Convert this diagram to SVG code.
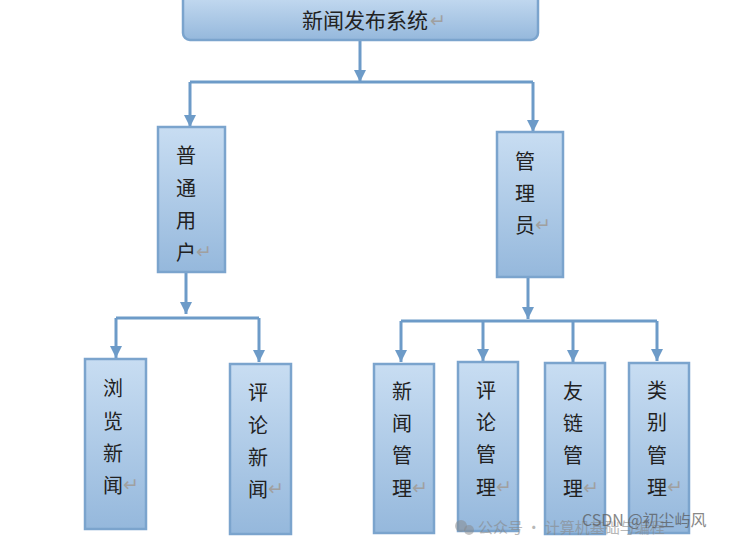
<svg xmlns="http://www.w3.org/2000/svg" width="734" height="540" viewBox="0 0 734 540">
<defs>
<linearGradient id="g" x1="0" y1="0" x2="0" y2="1">
<stop offset="0" stop-color="#c8ddf2"/>
<stop offset="1" stop-color="#95b8dc"/>
</linearGradient>
<marker id="ah" markerUnits="userSpaceOnUse" markerWidth="14" markerHeight="12" refX="12" refY="6" orient="auto">
<path d="M0,0 L12,6 L0,12 z" fill="#6d9bc8"/>
</marker>
<style>
.box{fill:url(#g);stroke:#7ba4cd;stroke-width:2.5}
.t{font-family:"Noto Sans CJK SC","Noto Sans",sans-serif;font-size:20px;fill:#222;text-anchor:middle;dominant-baseline:central}
.r{font-family:"DejaVu Sans",sans-serif;font-size:19px;fill:#a0a0a0;dominant-baseline:central}
.c{fill:none;stroke:#6d9bc8;stroke-width:3}
.a{marker-end:url(#ah)}
.wm{font-family:"Noto Sans CJK SC",sans-serif;fill:#888;opacity:0.6}
</style>
</defs>
<rect width="734" height="540" fill="#fff"/>
<g id="connectors">
<path class="c a" d="M360,40 V82"/>
<path class="c" d="M190,82 H533"/>
<path class="c a" d="M190,82 V127"/>
<path class="c a" d="M533,82 V132"/>
<path class="c a" d="M186,272 V314"/>
<path class="c" d="M116,318 H259"/>
<path class="c a" d="M116,318 V358"/>
<path class="c a" d="M259,318 V362"/>
<path class="c a" d="M528,277 V319"/>
<path class="c" d="M401,321 H657"/>
<path class="c a" d="M401,321 V362"/>
<path class="c a" d="M483,321 V361"/>
<path class="c a" d="M573,321 V362"/>
<path class="c a" d="M657,321 V361"/>
</g>
<g id="root">
<rect class="box" x="183" y="-8" width="355" height="48" rx="7"/>
<text class="t" x="365" y="19" style="font-size:21px">新闻发布系统</text>
<text class="r" x="430" y="20">↵</text>
</g>
<g id="user">
<rect class="box" x="158" y="127" width="67" height="145"/>
<text class="t" x="186" y="154">普</text>
<text class="t" x="186" y="187">通</text>
<text class="t" x="186" y="219">用</text>
<text class="t" x="186" y="251">户</text>
<text class="r" x="196" y="251">↵</text>
</g>
<g id="admin">
<rect class="box" x="497" y="132" width="66" height="145"/>
<text class="t" x="525" y="160">管</text>
<text class="t" x="525" y="192">理</text>
<text class="t" x="525" y="224">员</text>
<text class="r" x="535" y="224">↵</text>
</g>
<g id="browse">
<rect class="box" x="85" y="359" width="61" height="170"/>
<text class="t" x="113" y="387">浏</text>
<text class="t" x="113" y="420">览</text>
<text class="t" x="113" y="452">新</text>
<text class="t" x="113" y="484">闻</text>
<text class="r" x="123" y="484">↵</text>
</g>
<g id="comment">
<rect class="box" x="230" y="364" width="61" height="170"/>
<text class="t" x="258" y="391">评</text>
<text class="t" x="258" y="424">论</text>
<text class="t" x="258" y="456">新</text>
<text class="t" x="258" y="488">闻</text>
<text class="r" x="268" y="488">↵</text>
</g>
<g id="newsmgr">
<rect class="box" x="374" y="364" width="60" height="169"/>
<text class="t" x="402" y="390">新</text>
<text class="t" x="402" y="422">闻</text>
<text class="t" x="402" y="454">管</text>
<text class="t" x="402" y="487">理</text>
<text class="r" x="412" y="487">↵</text>
</g>
<g id="commentmgr">
<rect class="box" x="458" y="362" width="60" height="169"/>
<text class="t" x="486" y="389">评</text>
<text class="t" x="486" y="421">论</text>
<text class="t" x="486" y="453">管</text>
<text class="t" x="486" y="486">理</text>
<text class="r" x="496" y="486">↵</text>
</g>
<g id="linkmgr">
<rect class="box" x="545" y="363" width="60" height="171"/>
<text class="t" x="573" y="390">友</text>
<text class="t" x="573" y="422">链</text>
<text class="t" x="573" y="454">管</text>
<text class="t" x="573" y="487">理</text>
<text class="r" x="583" y="487">↵</text>
</g>
<g id="catmgr">
<rect class="box" x="629" y="363" width="60" height="170"/>
<text class="t" x="657" y="389">类</text>
<text class="t" x="657" y="421">别</text>
<text class="t" x="657" y="454">管</text>
<text class="t" x="657" y="486">理</text>
<text class="r" x="667" y="486">↵</text>
</g>
<g id="watermark">
<circle cx="461" cy="526" r="6" fill="#888" opacity="0.5"/>
<circle cx="469" cy="530" r="5" fill="#888" opacity="0.5"/>
<text class="wm" x="478" y="533" font-size="15">公众号 · 计算机基础与编程</text>
<text class="wm" x="582" y="526" font-size="16" style="fill:#555;opacity:0.7">CSDN @初尘屿风</text>
</g>
</svg>
